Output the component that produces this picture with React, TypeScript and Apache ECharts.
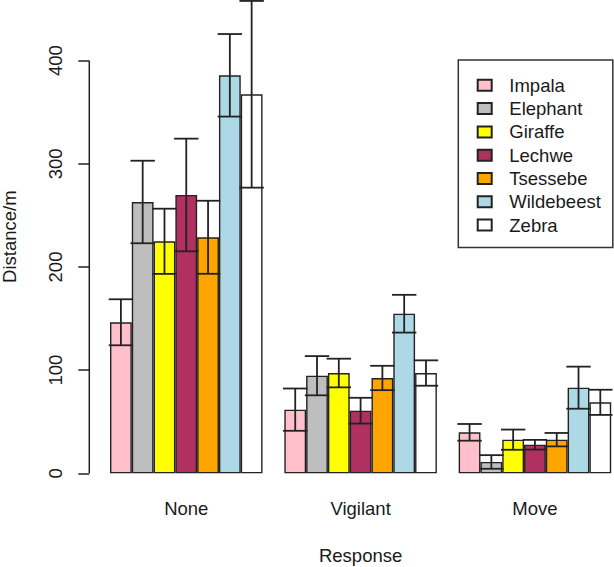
import React, { useEffect, useRef } from "react";
import * as echarts from "echarts";

const categories = ["None", "Vigilant", "Move"];
const species = ["Impala", "Elephant", "Giraffe", "Lechwe", "Tsessebe", "Wildebeest", "Zebra"];
const colors = ["#FFC0CB", "#BEBEBE", "#FFFF00", "#B03060", "#FFA500", "#ADD8E6", "#FFFFFF"];

// mean distance per species for None, Vigilant, Move
const impalaMean = [146.4, 61.7, 39.7];
const elephantMean = [263.0, 94.6, 11.0];
const giraffeMean = [224.9, 97.2, 32.6];
const lechweMean = [269.8, 60.7, 27.7];
const tsessebeMean = [228.8, 92.4, 32.6];
const wildebeestMean = [385.8, 154.7, 83.0];
const zebraMean = [367.4, 97.2, 68.8];

// standard errors
const impalaSe = [22.3, 20.5, 8.1];
const elephantSe = [40.0, 19.0, 6.6];
const giraffeSe = [31.6, 13.9, 9.8];
const lechweSe = [54.6, 12.5, 4.7];
const tsessebeSe = [35.4, 11.8, 6.5];
const wildebeestSe = [40.0, 18.3, 20.4];
const zebraSe = [90.5, 12.3, 12.2];

const yTicks = [0, 100, 200, 300, 400];
const yMax = 458.8;

const means = [impalaMean, elephantMean, giraffeMean, lechweMean, tsessebeMean, wildebeestMean, zebraMean];
const ses = [impalaSe, elephantSe, giraffeSe, lechweSe, tsessebeSe, wildebeestSe, zebraSe];

const FONT = "'Liberation Sans', Arial, sans-serif";
const INK = "#1a1a1a";
const GAP = 0.125;

export default function App() {
  const ref = useRef<HTMLDivElement>(null);
  useEffect(() => {
    if (!ref.current) return;
    const chart = echarts.init(ref.current, null, { renderer: "svg" });
    const nS = species.length;

    const errData: number[][] = [];
    means.forEach((m, s) => {
      m.forEach((v, c) => {
        errData.push([c, v - ses[s][c], v + ses[s][c], s]);
      });
    });

    const barSeries = species.map((name, s) => ({
      name,
      type: "bar",
      data: means[s],
      barGap: "0%",
      barCategoryGap: "12.5%",
      itemStyle: { color: colors[s], borderColor: "#222", borderWidth: 1.4 },
      emphasis: { disabled: true },
      z: 2,
    }));

    const option: any = {
      animation: false,
      textStyle: { fontFamily: FONT },
      grid: { left: 99.1, top: 0, width: 523, height: 473.3, containLabel: false, outerBoundsMode: "none" },
      legend: {
        data: species,
        orient: "vertical",
        left: 458.3,
        top: 60,
        icon: "rect",
        itemWidth: 14,
        itemHeight: 11,
        itemGap: 0,
        padding: [13.65, 12, 10.65, 18.4],
        borderColor: "#333",
        borderWidth: 1.5,
        textStyle: { fontSize: 18.5, lineHeight: 23.3, color: INK, fontFamily: FONT, padding: [0, 0, 0, 12.6] },
        selectedMode: false,
      },
      xAxis: {
        type: "category",
        data: categories,
        axisLine: { show: false },
        axisTick: { show: false },
        axisLabel: { fontSize: 18.5, color: INK, margin: 26, fontFamily: FONT },
        name: "Response",
        nameLocation: "middle",
        nameGap: 73,
        nameTextStyle: { fontSize: 18.5, color: INK, fontFamily: FONT },
      },
      yAxis: {
        type: "value",
        min: 0,
        max: yMax,
        offset: 9.8,
        splitLine: { show: false },
        axisLine: { show: false },
        axisTick: {
          show: true,
          length: 11,
          customValues: yTicks,
          lineStyle: { color: "#222", width: 1.5 },
        },
        axisLabel: {
          rotate: 90,
          fontSize: 18.5,
          color: INK,
          margin: 24,
          customValues: yTicks,
          fontFamily: FONT,
        },
        name: "Distance/m",
        nameLocation: "middle",
        nameRotate: 90,
        nameGap: 70,
        nameTextStyle: { fontSize: 18.5, color: INK, fontFamily: FONT },
      },
      series: [
        ...barSeries,
        {
          type: "custom",
          name: "errors",
          data: errData,
          z: 5,
          clip: false,
          encode: { x: 0, y: [1, 2] },
          renderItem: (params: any, api: any) => {
            const c = api.value(0);
            const lo = api.value(1);
            const hi = api.value(2);
            const s = api.value(3);
            const band = api.size([1, 0])[0];
            const groupW = band * (1 - GAP);
            const bw = groupW / nS;
            const center = api.coord([c, 0])[0];
            const x = center - groupW / 2 + bw * (s + 0.5);
            const yLo = api.coord([c, lo])[1];
            const yHi = api.coord([c, hi])[1];
            const half = bw * 0.56;
            const st = { stroke: "#222", lineWidth: 1.8 };
            return {
              type: "group",
              children: [
                { type: "line", shape: { x1: x, y1: yLo, x2: x, y2: yHi }, style: st },
                { type: "line", shape: { x1: x - half, y1: yHi, x2: x + half, y2: yHi }, style: st },
                { type: "line", shape: { x1: x - half, y1: yLo, x2: x + half, y2: yLo }, style: st },
              ],
            };
          },
        },
        {
          type: "custom",
          name: "yaxisline",
          data: [[0, yTicks[0], yTicks[yTicks.length - 1]]],
          z: 5,
          clip: false,
          encode: { x: 0, y: [1, 2] },
          renderItem: (params: any, api: any) => {
            const x = params.coordSys.x - 9.8;
            const y1 = api.coord([0, api.value(1)])[1];
            const y2 = api.coord([0, api.value(2)])[1];
            return {
              type: "line",
              shape: { x1: x, y1, x2: x, y2 },
              style: { stroke: "#222", lineWidth: 1.5 },
            };
          },
        },
      ],
    };
    chart.setOption(option);
    return () => chart.dispose();
  }, []);
  return (
    <div
      ref={ref}
      style={{ position: "fixed", left: 0, top: 0, width: 614, height: 567, background: "#fff" }}
    />
  );
}
